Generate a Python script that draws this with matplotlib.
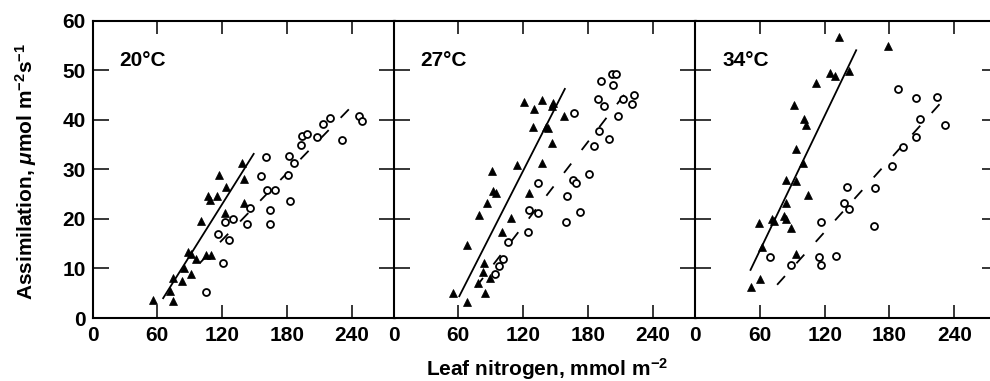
import matplotlib
matplotlib.use("Agg")
import matplotlib.pyplot as plt
import numpy as np

# --------------------
# data
# --------------------

temps = ["20°C", "27°C", "34°C"]

tri_x_20 = [56, 71.6, 74.8, 74.5, 83, 84.7, 91, 88, 91.5, 95.6, 100, 106.5, 109, 115.3,
            117, 124, 123, 138, 140, 140, 105, 110]
tri_y_20 = [3.7, 5.4, 3.5, 8.1, 7.4, 10.1, 8.8, 13.3, 13.0, 11.8, 19.5, 24.6, 23.8, 24.6,
            28.8, 26.5, 21.2, 31.3, 28.0, 23.2, 12.8, 12.8]
circ_x_20 = [105, 120.6, 116.5, 122.5, 130, 126, 143, 146, 156.4, 161, 161.7, 168.8, 164,
             164, 181, 181.6, 186.6, 182.9, 193, 194, 198.4, 207.8, 213, 220, 230.5, 246.7, 249]
circ_y_20 = [5.2, 11.1, 17.0, 19.4, 19.9, 15.8, 18.9, 22.2, 28.6, 32.4, 25.9, 25.9, 21.8,
             18.9, 28.8, 32.7, 31.3, 23.6, 34.9, 36.7, 37.2, 36.5, 39.2, 40.4, 36.0, 40.8, 39.7]

tri_x_27 = [55.4, 68.3, 67.6, 79, 84.5, 84, 82.8, 89.6, 78.5, 86.9, 91.2, 92.1, 95.2, 109,
            100.4, 114.5, 120.6, 125.8, 129, 130.4, 137.4, 137.1, 141, 143, 146.6, 148, 146.6, 158]
tri_y_27 = [5.0, 3.3, 14.7, 20.8, 5.0, 11.1, 9.3, 8.1, 7.1, 23.2, 29.7, 25.7, 25.2, 20.1,
            17.3, 30.9, 43.6, 25.3, 38.5, 42.2, 43.9, 31.2, 38.6, 38.3, 42.7, 43.4, 35.2, 40.8]
circ_x_27 = [94, 98, 101.5, 106, 124.9, 125.8, 134, 133.8, 160.4, 159.5, 166.2, 168.7, 172.3,
             180.9, 167, 185.8, 190, 199.3, 189.5, 195, 207.8, 192.2, 203.2, 202, 206, 212,
             220.7, 223]
circ_y_27 = [8.8, 10.4, 12.0, 15.3, 17.4, 21.8, 21.1, 27.3, 24.6, 19.3, 27.9, 27.2, 21.3,
             29.0, 41.3, 34.7, 37.8, 36.2, 44.2, 42.7, 40.7, 47.7, 46.9, 49.3, 49.3, 44.2,
             43.2, 44.9]

tri_x_34 = [51.4, 60.6, 62.2, 59.4, 71, 73, 82.5, 84, 88.6, 84.6, 84, 93.2, 93.8, 100, 105,
            93.8, 91.7, 100.6, 102.5, 112.3, 125.2, 129.2, 133.2, 142.2, 178.8]
tri_y_34 = [6.3, 7.9, 14.3, 19.1, 20.0, 19.5, 20.5, 20.0, 18.2, 23.2, 27.9, 27.7, 12.9, 31.2,
            24.8, 34.0, 42.9, 40.2, 39.0, 47.3, 49.4, 48.8, 56.6, 49.8, 54.8]
circ_x_34 = [69.2, 89.2, 117, 114.5, 116.3, 130.8, 137.8, 142.5, 140.6, 165.5, 167, 182.2,
             192.3, 204.6, 208.6, 187.7, 204.6, 224, 231.7]
circ_y_34 = [12.4, 10.6, 19.3, 12.3, 10.6, 12.5, 23.2, 21.9, 26.4, 18.5, 26.3, 30.6, 34.5,
             36.5, 40.2, 46.1, 44.4, 44.6, 39.0]

# fitted lines (end points)
solid_x = [[65.4, 149.2], [60.9, 158.6], [51.4, 149.2]]
solid_y = [[4.0, 33.1], [4.4, 46.2], [9.7, 54.0]]
dash_x = [[99.4, 244], [76.2, 222], [76, 232.9]]
dash_y = [[11.1, 43.6], [6.2, 47.4], [6.7, 44.7]]

tri_x = [tri_x_20, tri_x_27, tri_x_34]
tri_y = [tri_y_20, tri_y_27, tri_y_34]
circ_x = [circ_x_20, circ_x_27, circ_x_34]
circ_y = [circ_y_20, circ_y_27, circ_y_34]

xticks = [0, 60, 120, 180, 240]
yticks = [0, 10, 20, 30, 40, 50, 60]

# --------------------
# style
# --------------------

plt.rcParams["font.family"] = ["Liberation Sans", "DejaVu Sans"]
plt.rcParams["font.weight"] = "bold"
plt.rcParams["mathtext.fontset"] = "custom"
plt.rcParams["mathtext.rm"] = "Liberation Sans:bold"
plt.rcParams["mathtext.it"] = "Liberation Sans:bold:italic"
plt.rcParams["mathtext.bf"] = "Liberation Sans:bold"

fig = plt.figure(figsize=(9.9, 3.81), dpi=100)

W, H = 990.0, 381.0
lefts = [92.5, 393.5, 695.0]
pw = 302.5
bottom = (H - 318) / H
height = (318 - 20.5) / H

for i in range(3):
    ax = fig.add_axes([lefts[i] / W, bottom, pw / W, height])

    ax.plot(tri_x[i], tri_y[i], "^", color="black", markersize=6.2,
            markeredgewidth=0.5, zorder=3)
    ax.plot(circ_x[i], circ_y[i], "o", markerfacecolor="white",
            markeredgecolor="black", markersize=5, markeredgewidth=1.3, zorder=3)

    ax.plot(solid_x[i], solid_y[i], "-", color="black", lw=1.3, zorder=2)
    ax.plot(dash_x[i], dash_y[i], color="black", lw=1.3,
            linestyle=(0, (6.5, 9.5)), zorder=2)

    ax.text(25, 52, temps[i], fontsize=15, fontweight="bold", va="center")

    ax.set_xlim(0, 280)
    ax.set_ylim(0, 60)
    ax.set_xticks(xticks)
    ax.set_yticks(yticks)

    for s in ax.spines.values():
        s.set_linewidth(1.5)

    ax.tick_params(axis="x", direction="in", length=9.5, width=1.1,
                   top=True, labelsize=15, pad=6)
    ax.tick_params(axis="y", direction="in", length=11.5, width=1.1,
                   right=True, labelsize=15, pad=5)
    if i > 0:
        ax.tick_params(axis="y", labelleft=False)

fig.text(0.026, 0.55, r"Assimilation, $\it{\mu}$mol m$^{-2}$s$^{-1}$",
         rotation=90, ha="center", va="center", fontsize=15, fontweight="bold")
fig.text(0.5525, 0.013, r"Leaf nitrogen, mmol m$^{-2}$",
         ha="center", va="baseline", fontsize=15, fontweight="bold")

plt.savefig("out.png", dpi=100)
